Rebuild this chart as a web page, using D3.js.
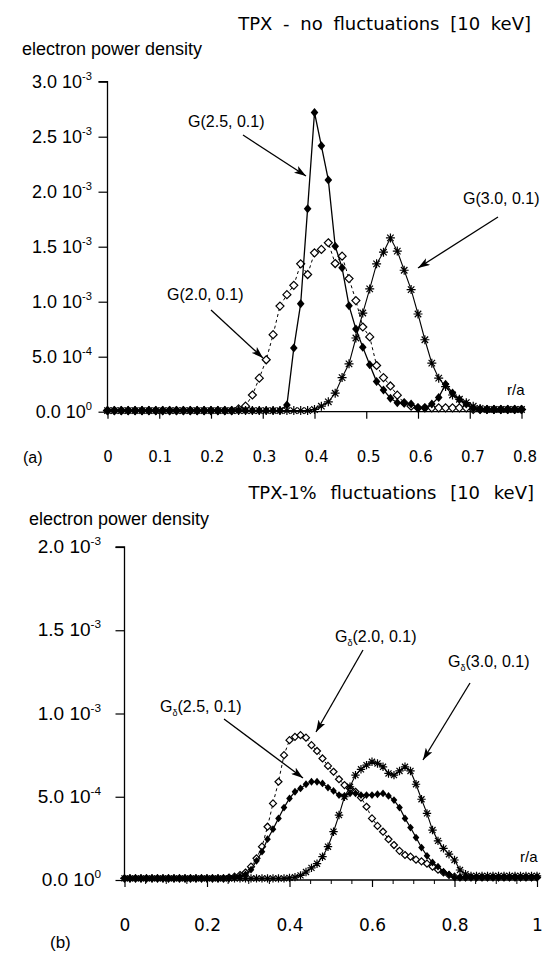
<!DOCTYPE html>
<html><head><meta charset="utf-8">
<script src="https://cdn.jsdelivr.net/npm/d3@7"></script>
<style>body{margin:0;background:#fff}svg{display:block}</style>
</head><body>
<svg id="c" width="551" height="960"></svg>
<script>
// ---------- DATA ----------
// radial grid (r/a) for top panel
const rTop = [0,.0133,.0267,.04,.0533,.0667,.08,.0933,.1067,.12,.1333,.1467,.16,.1733,.1867,.2,.2133,.2267,.24,.2533,.2667,.28,.2933,.3067,.32,.3333,.3467,.36,.3733,.3867,.4,.4133,.4267,.44,.4533,.4667,.48,.4933,.5067,.52,.5333,.5467,.56,.5733,.5867,.6,.6133,.6267,.64,.6533,.6667,.68,.6933,.7067,.72,.7333,.7467,.76,.7733,.7867,.8];
// G(2.5,0.1) filled diamonds
const g25Top = [1e-5,1e-5,1e-5,1e-5,1e-5,1e-5,1e-5,1e-5,1e-5,1e-5,1e-5,1e-5,1e-5,1e-5,1e-5,1e-5,1e-5,1e-5,1e-5,1e-5,1e-5,1e-5,1e-5,1e-5,1e-5,1e-5,
 6e-5,5.78e-4,9.82e-4,1.846e-3,2.72e-3,2.417e-3,2.107e-3,1.505e-3,1.308e-3,9.64e-4,7.51e-4,5.87e-4,4.26e-4,2.74e-4,1.98e-4,1.22e-4,8.2e-5,
 8e-5,7e-5,3.5e-5,3.5e-5,7e-5,1.3e-4,2.5e-4,1.7e-4,1.1e-4,7e-5,3e-5,2e-5,2e-5,2e-5,2e-5,2e-5,2e-5,2e-5];
// G(2.0,0.1) open diamonds
const g20Top = [1e-5,1e-5,1e-5,1e-5,1e-5,1e-5,1e-5,1e-5,1e-5,1e-5,1e-5,1e-5,1e-5,1e-5,1e-5,1e-5,1e-5,1e-5,1e-5,2.5e-5,5e-5,
 1.52e-4,3.05e-4,4.72e-4,7.0e-4,9.6e-4,1.064e-3,1.149e-3,1.344e-3,1.247e-3,1.444e-3,1.475e-3,1.536e-3,1.347e-3,1.414e-3,1.21e-3,1.01e-3,7.7e-4,6.8e-4,4.2e-4,3.1e-4,2.34e-4,1.5e-4,8e-5,
 5e-5,3.5e-5,3.5e-5,3.5e-5,3.5e-5,3.5e-5,3.5e-5,3.5e-5,3.5e-5,2e-5,2e-5,2e-5,2e-5,2e-5,2e-5,2e-5,2e-5];
// G(3.0,0.1) stars
const g30Top = [1e-5,1e-5,1e-5,1e-5,1e-5,1e-5,1e-5,1e-5,1e-5,1e-5,1e-5,1e-5,1e-5,1e-5,1e-5,1e-5,1e-5,1e-5,1e-5,1e-5,1e-5,1e-5,1e-5,1e-5,1e-5,1e-5,1e-5,1e-5,1e-5,1e-5,
 2e-5,5e-5,9e-5,1.68e-4,3.1e-4,4.35e-4,6.7e-4,8.97e-4,1.116e-3,1.344e-3,1.45e-3,1.58e-3,1.46e-3,1.286e-3,1.11e-3,8.88e-4,6.54e-4,4.41e-4,3.05e-4,2.28e-4,1.52e-4,1.13e-4,8.2e-5,5e-5,3e-5,
 2e-5,2e-5,2e-5,2e-5,2e-5,2e-5];

// radial grid for bottom panel
const rBot = [0,.0133,.0267,.04,.0533,.0667,.08,.0933,.1067,.12,.1333,.1467,.16,.1733,.1867,.2,.2133,.2267,.24,.2533,.2667,.28,.2933,.3067,.32,.3333,.3467,.36,.3733,.3867,.4,.4133,.4267,.44,.4533,.4667,.48,.4933,.5067,.52,.5333,.5467,.56,.5733,.5867,.6,.6133,.6267,.64,.6533,.6667,.68,.6933,.7067,.72,.7333,.7467,.76,.7733,.7867,.8,.8133,.8267,.84,.8533,.8667,.88,.8933,.9067,.92,.9333,.9467,.96,.9733,.9867,1];
// Gδ(2.0,0.1) open diamonds
const g20Bot = [1e-5,1e-5,1e-5,1e-5,1e-5,1e-5,1e-5,1e-5,1e-5,1e-5,1e-5,1e-5,1e-5,1e-5,1e-5,1e-5,1e-5,1e-5,1e-5,1.5e-5,2e-5,3e-5,4.5e-5,8e-5,1.3e-4,2.0e-4,3.2e-4,4.6e-4,5.9e-4,7.5e-4,
 8.4e-4,8.6e-4,8.7e-4,8.55e-4,8.1e-4,7.75e-4,7.3e-4,6.85e-4,6.5e-4,6.05e-4,5.7e-4,5.5e-4,5.3e-4,4.95e-4,4.4e-4,3.7e-4,3.25e-4,2.9e-4,2.45e-4,2.1e-4,1.75e-4,1.5e-4,1.4e-4,1.22e-4,1.12e-4,9.8e-5,8e-5,6.2e-5,4.5e-5,3e-5,2e-5,
 1.5e-5,1.5e-5,1.5e-5,1.5e-5,1.5e-5,1.5e-5,1.5e-5,1.5e-5,1.5e-5,1.5e-5,1.5e-5,1.5e-5,1.5e-5,1.5e-5,1.5e-5];
// Gδ(2.5,0.1) filled diamonds
const g25Bot = [1e-5,1e-5,1e-5,1e-5,1e-5,1e-5,1e-5,1e-5,1e-5,1e-5,1e-5,1e-5,1e-5,1e-5,1e-5,1e-5,1e-5,1e-5,1e-5,1e-5,1.5e-5,2.2e-5,3.3e-5,6.2e-5,1.15e-4,1.7e-4,2.45e-4,3.05e-4,3.7e-4,4.35e-4,
 4.9e-4,5.3e-4,5.5e-4,5.75e-4,5.9e-4,5.9e-4,5.8e-4,5.55e-4,5.35e-4,5.1e-4,5.05e-4,5.2e-4,5.2e-4,5.1e-4,5.1e-4,5.1e-4,5.15e-4,5.2e-4,5.05e-4,4.8e-4,4.35e-4,3.7e-4,3.15e-4,2.55e-4,1.95e-4,1.45e-4,1.05e-4,8e-5,5e-5,3.3e-5,
 1.5e-5,1.5e-5,1.5e-5,1.5e-5,1.5e-5,1.5e-5,1.5e-5,1.5e-5,1.5e-5,1.5e-5,1.5e-5,1.5e-5,1.5e-5,1.5e-5,1.5e-5,1.5e-5];
// Gδ(3.0,0.1) stars
const g30Bot = [1e-5,1e-5,1e-5,1e-5,1e-5,1e-5,1e-5,1e-5,1e-5,1e-5,1e-5,1e-5,1e-5,1e-5,1e-5,1e-5,1e-5,1e-5,1e-5,1e-5,1e-5,1e-5,1e-5,1e-5,1e-5,1e-5,1e-5,1e-5,1e-5,1e-5,
 1.3e-5,1.7e-5,2.8e-5,4.8e-5,7.3e-5,9.8e-5,1.4e-4,2.0e-4,2.9e-4,3.9e-4,5.0e-4,5.6e-4,6.3e-4,6.65e-4,6.9e-4,7.1e-4,7.0e-4,6.8e-4,6.4e-4,6.3e-4,6.55e-4,6.8e-4,6.55e-4,5.75e-4,4.85e-4,4.0e-4,3.0e-4,2.35e-4,1.9e-4,1.55e-4,1.2e-4,6e-5,3.5e-5,
 2.5e-5,2.5e-5,2.5e-5,2.5e-5,2.5e-5,2.5e-5,2.5e-5,2.5e-5,2.5e-5,2.5e-5,2.5e-5,2.5e-5,2.5e-5,2e-5];

// ticks
const yTicksTop = [0, 5e-4, 1e-3, 1.5e-3, 2e-3, 2.5e-3, 3e-3];
const yLabelsTop = [["0.0","0"],["5.0","-4"],["1.0","-3"],["1.5","-3"],["2.0","-3"],["2.5","-3"],["3.0","-3"]];
const xTicksTop = [0,0.1,0.2,0.3,0.4,0.5,0.6,0.7,0.8];
const xLabelsTop = ["0","0.1","0.2","0.3","0.4","0.5","0.6","0.7","0.8"];
const yTicksBot = [0, 5e-4, 1e-3, 1.5e-3, 2e-3];
const yLabelsBot = [["0.0","0"],["5.0","-4"],["1.0","-3"],["1.5","-3"],["2.0","-3"]];
const xTicksBot = [0,0.2,0.4,0.6,0.8,1];
const xLabelsBot = ["0","0.2","0.4","0.6","0.8","1"];

// annotation texts
const titleTop = "TPX - no fluctuations [10 keV]";
const titleBot = "TPX-1% fluctuations [10 keV]";
const yTitle = "electron power density";

// ---------- DRAW ----------
const svg = d3.select("#c");
svg.append("rect").attr("width",551).attr("height",960).attr("fill","#fff");

const defs = svg.append("defs");
defs.append("marker").attr("id","ah").attr("viewBox","0 0 12 8").attr("refX",12).attr("refY",4)
  .attr("markerWidth",12).attr("markerHeight",8).attr("markerUnits","userSpaceOnUse").attr("orient","auto")
  .append("path").attr("d","M0,0 L12,4 L0,8 L3,4 Z").attr("fill","#000");

const SANS = "'Liberation Sans', Arial, sans-serif";
const WIDE = "'DejaVu Sans', Verdana, sans-serif";

function starPath(s){
  const d = s, e = s*0.72;
  return `M0,${-d}L0,${d}M${-e},${-e}L${e},${e}M${-e},${e}L${e},${-e}M${-d},0L${d},0`;
}

function panel(cfg){
  const g = svg.append("g");
  const x = d3.scaleLinear().domain(cfg.xDomain).range(cfg.xRange);
  const y = d3.scaleLinear().domain(cfg.yDomain).range(cfg.yRange);

  // y axis
  const ya = d3.axisLeft(y).tickValues(cfg.yTicks).tickSize(9).tickFormat("");
  const yg = g.append("g").attr("transform",`translate(${cfg.xRange[0]},0)`).call(ya);
  yg.select(".domain").attr("stroke","#000").attr("stroke-width",1.3).attr("d",`M-9,${cfg.yRange[1]}H0V${cfg.yRange[0]}`);
  yg.selectAll(".tick line").attr("stroke","#000").attr("stroke-width",1.2);
  // y labels
  cfg.yTicks.forEach((t,i)=>{
    const tx = g.append("text").attr("x",cfg.yLabelX).attr("y",y(t)+6).attr("text-anchor","end")
      .attr("font-family",SANS).attr("font-size",cfg.yFont).attr("fill","#000");
    tx.append("tspan").text(cfg.yLabels[i][0]+" 10");
    tx.append("tspan").attr("dy",-8).attr("font-size",cfg.yFont*0.62).text(cfg.yLabels[i][1]);
  });

  // x axis
  const xa = d3.axisBottom(x).tickValues(cfg.xTicks).tickSize(7).tickFormat("");
  const xg = g.append("g").attr("transform",`translate(0,${cfg.yRange[0]})`).call(xa);
  xg.select(".domain").attr("stroke","#000").attr("stroke-width",1.3).attr("d",`M${cfg.xRange[0]},0H${cfg.xRange[1]}`);
  xg.selectAll(".tick line").attr("stroke","#000").attr("stroke-width",1.2);
  if (cfg.xMinor){
    const xm = d3.axisBottom(x).tickValues(cfg.xMinor).tickSize(4).tickFormat("");
    const mg = g.append("g").attr("transform",`translate(0,${cfg.yRange[0]})`).call(xm);
    mg.select(".domain").remove();
    mg.selectAll(".tick line").attr("stroke","#000").attr("stroke-width",1);
  }
  // x labels (separate label axis)
  const xl = d3.scaleLinear().domain(cfg.xDomain).range(cfg.xLabelRange);
  const la = d3.axisBottom(xl).tickValues(cfg.xTicks).tickSize(0).tickPadding(0).tickFormat((d,i)=>cfg.xLabels[i]);
  const lg = g.append("g").attr("transform",`translate(0,${cfg.xLabelY})`).call(la);
  lg.select(".domain").remove();
  lg.selectAll("text").attr("font-family",WIDE).attr("font-size",cfg.xFont).attr("fill","#000").attr("dy",0);

  // series
  cfg.series.forEach(s=>{
    const pts = cfg.r.map((r,i)=>[r,s.v[i]]);
    const line = d3.line().x(d=>x(d[0])).y(d=>y(d[1]));
    g.append("path").attr("d",line(pts)).attr("fill","none").attr("stroke","#000")
      .attr("stroke-width",s.lw).attr("stroke-dasharray",s.dash||null);
    const mk = g.append("g");
    pts.forEach(d=>{
      const cx = x(d[0]), cy = y(d[1]);
      if (s.type==="fd"){
        mk.append("path").attr("transform",`translate(${cx},${cy})`)
          .attr("d",`M0,${-s.ms}L${s.ms*0.85},0L0,${s.ms}L${-s.ms*0.85},0Z`).attr("fill","#000");
      } else if (s.type==="od"){
        mk.append("path").attr("transform",`translate(${cx},${cy})`)
          .attr("d",`M0,${-s.ms}L${s.ms},0L0,${s.ms}L${-s.ms},0Z`).attr("fill","#fff").attr("stroke","#000").attr("stroke-width",1.2);
      } else {
        mk.append("path").attr("transform",`translate(${cx},${cy})`)
          .attr("d",starPath(s.ms)).attr("fill","none").attr("stroke","#000").attr("stroke-width",1.2);
      }
    });
  });
  return {x,y,g};
}

// top panel
const panelTop = panel({
  xDomain:[0,0.8], xRange:[107.5,521.5], yDomain:[0,3e-3], yRange:[411.7,81.7],
  yTicks:yTicksTop, yLabels:yLabelsTop, yLabelX:92, yFont:18,
  xTicks:xTicksTop, xLabels:xLabelsTop, xLabelRange:[107.5,524.5], xLabelY:462, xFont:15,
  r:rTop,
  series:[
    {v:g20Top,type:"od",ms:4,lw:1,dash:"3,3"},
    {v:g30Top,type:"st",ms:4.5,lw:1.1},
    {v:g25Top,type:"fd",ms:4.5,lw:1.3}
  ]
});
// bottom panel
const panelBot = panel({
  xDomain:[0,1], xRange:[124.5,537], yDomain:[0,2e-3], yRange:[880,547],
  yTicks:yTicksBot, yLabels:yLabelsBot, yLabelX:101, yFont:19,
  xTicks:xTicksBot, xLabels:xLabelsBot, xLabelRange:[124.5,537], xLabelY:931, xFont:17,
  xMinor:[0.05,0.1,0.15,0.25,0.3,0.35,0.45,0.5,0.55,0.65,0.7,0.75,0.85,0.9,0.95],
  r:rBot,
  series:[
    {v:g20Bot,type:"od",ms:3.5,lw:1,dash:"3,3"},
    {v:g30Bot,type:"st",ms:4.2,lw:1.1},
    {v:g25Bot,type:"fd",ms:3.9,lw:1.2}
  ]
});

// titles and texts
function txt(x,y,s,size,fam,anchor,extra){
  const t = svg.append("text").attr("x",x).attr("y",y).attr("font-size",size).attr("font-family",fam)
    .attr("text-anchor",anchor||"start").attr("fill","#000").text(s);
  if (extra) extra(t);
  return t;
}
txt(531,30,titleTop,18,WIDE,"end",t=>t.attr("word-spacing",5));
txt(534,499,titleBot,18,WIDE,"end",t=>t.attr("word-spacing",8));
txt(22,55,yTitle,18,SANS);
txt(29,525,yTitle,18,SANS);
txt(507,395,"r/a",15,SANS);
txt(520,862,"r/a",15,SANS);
txt(23,463,"(a)",16,SANS);
txt(50,948,"(b)",17,SANS);

// annotations
function label(x,y,name,params,sub){
  const t = svg.append("text").attr("x",x).attr("y",y).attr("font-size",16).attr("font-family",SANS).attr("fill","#000");
  t.append("tspan").text(name);
  if (sub){ t.append("tspan").attr("font-size",9).attr("dy",4).text(sub); t.append("tspan").attr("dy",-4).text(params); }
  else t.append("tspan").text(params);
}
function arrow(x1,y1,x2,y2){
  svg.append("line").attr("x1",x1).attr("y1",y1).attr("x2",x2).attr("y2",y2)
    .attr("stroke","#000").attr("stroke-width",1.3).attr("marker-end","url(#ah)");
}
label(188,127,"G","(2.5, 0.1)");
arrow(243,135,306,176);
label(463,204,"G","(3.0, 0.1)");
arrow(498,217,418,268);
label(167,300,"G","(2.0, 0.1)");
arrow(211,310,263,358);

label(160,712,"G","(2.5, 0.1)","\u03b4");
arrow(224,719,303,778);
label(335,642,"G","(2.0, 0.1)","\u03b4");
arrow(363,650,316,732);
label(448,667,"G","(3.0, 0.1)","\u03b4");
arrow(470,683,423,760);
</script>
</body></html>
